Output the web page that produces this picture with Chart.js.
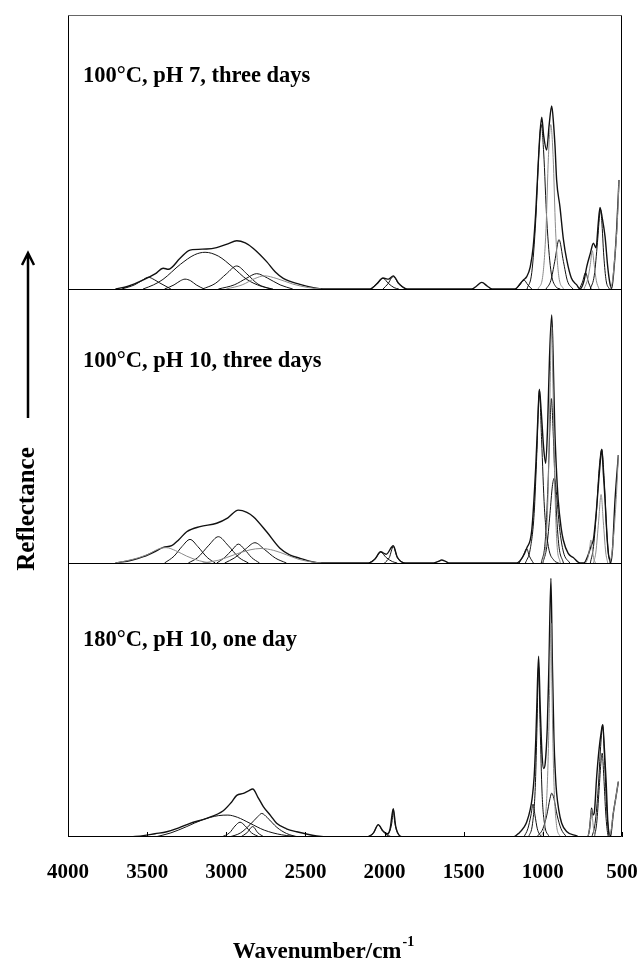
<!DOCTYPE html>
<html>
<head>
<meta charset="utf-8">
<script src="https://cdn.jsdelivr.net/npm/chart.js@4.4.1/dist/chart.umd.min.js"></script>
<style>
  html, body { margin: 0; padding: 0; background: #fff; }
  canvas { display: block; }
</style>
</head>
<body>
<canvas id="spectra" width="642" height="979"></canvas>
<script>
// [wavenumber cm-1, reflectance] pairs; one sum curve plus fitted bands per sample

// 100 C, pH 7, three days
const ph7Sum = [[3700,0],[3620,1],[3524,3.3],[3450,5.5],[3398,7.6],[3366,7.2],[3292,11.2],[3229,14.2],[3124,14.6],[3061,15.1],[2990,16.5],[2934,17.6],[2880,16.8],[2829,14.8],[2745,10],[2690,6.2],[2640,3.9],[2535,1.7],[2450,0.5],[2389,0],
  [2090,0],[2050,1.8],[2010,4],[1975,3.6],[1945,4.8],[1910,2],[1860,0],
  [1450,0],[1420,1],[1386,2.4],[1350,1],[1320,0],
  [1176,0],[1140,2.2],[1123,3.3],[1102,4.5],[1080,8],[1061,15.4],[1045,28],[1029,45.9],[1018,57],[1007,62.7],[995,56],[976,50.7],[960,60],[944,66.8],[932,60],[923,52],[913,39.8],[892,30],[870,18],[849,10.6],[820,4],[786,1.5],[765,0],
  [740,3],[723,8.1],[700,13],[681,16.7],[664,15],[650,24],[639,29.8],[625,26],[607,19.1],[590,8],[576,2],[565,0.3],[550,8],[534,21.5],[519,39.8]];
const ph7Band3490 = [[3660,0],[3580,1.5],[3530,3.2],[3493,4.3],[3455,3.4],[3420,2.2],[3350,0]];
const ph7Band3260 = [[3390,0],[3330,1.5],[3290,3],[3261,3.6],[3225,3],[3190,1.5],[3140,0]];
const ph7Band3130 = [[3526,0],[3460,1.5],[3400,3.5],[3290,9],[3200,12.5],[3134,13.4],[3050,12],[2960,8],[2870,3.5],[2780,1],[2705,0]];
const ph7Band2935 = [[3150,0],[3070,2],[3000,5.5],[2934,8.4],[2870,5.5],[2800,1.8],[2720,0]];
const ph7Band2810 = [[3050,0],[2950,1.5],[2870,4],[2808,5.6],[2740,4],[2660,1.5],[2580,0]];
const ph7Band2760 = [[3000,0],[2900,1.5],[2820,3.8],[2760,4.8],[2680,3.8],[2580,1.8],[2480,0.5],[2400,0]];
const ph7Band2010 = [[2090,0],[2050,1.8],[2010,3.9],[1975,2],[1940,0.5],[1910,0]];
const ph7Band1945 = [[2010,0],[1980,1.8],[1945,4.5],[1910,1.8],[1860,0]];
const ph7Band1120 = [[1170,0],[1145,1.5],[1120,3.3],[1095,1.5],[1070,0]];
const ph7Band1010 = [[1100,0],[1070,6],[1045,25],[1025,50],[1010,60],[995,50],[975,25],[950,7],[920,1],[890,0]];
const ph7Band950 = [[1030,0],[1000,5],[980,22],[965,48],[950,60],[935,48],[920,22],[900,5],[870,0]];
const ph7Band898 = [[980,0],[950,3],[925,10],[898,18],[870,10],[845,3],[810,0]];
const ph7Band730 = [[770,0],[750,2.5],[730,6],[712,2.5],[695,0]];
const ph7Band690 = [[740,0],[715,4],[700,9],[688,14],[676,9],[662,3],[645,0]];
const ph7Band636 = [[700,0],[675,5],[655,17],[640,28],[636,29],[628,25],[615,12],[600,3],[580,0]];
const ph7Band500 = [[575,0],[560,3],[545,12],[530,24],[519,39.8]];

// 100 C, pH 10, three days
const ph10Sum = [[3700,0],[3600,1],[3524,2.3],[3450,4.2],[3398,5.7],[3345,6.3],[3300,8.5],[3250,11.4],[3166,13.3],[3061,14.5],[2990,16.5],[2924,19.3],[2870,18.5],[2829,16.9],[2745,11.4],[2661,5.4],[2600,3],[2534,1.7],[2460,0.5],[2408,0],
  [2100,0],[2060,1.5],[2025,4.1],[1990,3.2],[1945,6.3],[1920,2.2],[1870,0],
  [1690,0],[1660,0.6],[1639,1.1],[1615,0.6],[1590,0],
  [1165,0],[1130,2],[1102,5.4],[1070,12],[1045,35],[1030,55],[1022,63.4],[1010,55],[995,42],[982,36.4],[970,50],[958,75],[944,90.5],[935,75],[925,50],[915,35],[903,23],[885,13],[871,8.4],[840,3.5],[808,2],[765,0],
  [740,0],[720,2],[702,5],[690,7],[681,8.4],[665,17],[650,27.8],[640,35],[628,41.5],[617,32],[607,23],[595,10],[585,3],[576,1.1],[572,0],[560,5],[544,23],[523,39.4]];
const ph10Band3400 = [[3700,0],[3600,1.2],[3500,3],[3420,5.3],[3380,5.6],[3320,4.5],[3250,2.5],[3170,0.8],[3100,0]];
const ph10Band3230 = [[3390,0],[3330,2.5],[3280,6],[3229,8.6],[3180,6],[3120,2],[3070,0]];
const ph10Band3050 = [[3240,0],[3180,2],[3110,6.5],[3050,9.6],[2990,6.5],[2920,2],[2860,0]];
const ph10Band2925 = [[3060,0],[3010,2],[2960,5],[2924,6.9],[2885,5],[2840,2],[2790,0]];
const ph10Band2820 = [[3010,0],[2950,1.8],[2880,5],[2819,7.4],[2760,5],[2690,1.8],[2620,0]];
const ph10Band2780 = [[3150,0],[3050,1],[2950,3],[2850,4.8],[2780,5.3],[2700,4.6],[2620,3],[2540,1.3],[2450,0.3],[2400,0]];
const ph10Band2025 = [[2100,0],[2060,1.5],[2025,4],[1990,2],[1950,0.5],[1920,0]];
const ph10Band1945 = [[2000,0],[1970,2],[1945,6],[1920,2],[1880,0]];
const ph10Band1102 = [[1150,0],[1125,2.5],[1102,5.2],[1085,2.5],[1060,0]];
const ph10Band1022 = [[1110,0],[1080,5],[1055,18],[1038,40],[1022,63],[1008,45],[990,20],[965,6],[930,1],[900,0]];
const ph10Band944 = [[1000,0],[980,8],[965,30],[955,62],[944,86],[935,62],[925,30],[912,8],[890,0]];
const ph10Band946 = [[1010,0],[985,8],[968,28],[955,50],[946,60],[935,48],[920,25],[900,7],[870,0]];
const ph10Band928 = [[1000,0],[975,6],[955,18],[940,28],[928,31],[915,26],[895,13],[870,4],[830,0]];
const ph10Band698 = [[730,0],[715,2],[703,6],[697,8.4],[690,6],[680,2],[668,0]];
const ph10Band628 = [[700,0],[680,6],[660,20],[645,34],[628,41.5],[612,30],[597,12],[585,3],[575,0]];
const ph10Band632 = [[680,0],[665,4],[648,15],[632,25],[618,15],[603,4],[590,0]];
const ph10Band500 = [[580,0],[565,3],[550,12],[535,25],[523,39.4]];

// 180 C, pH 10, one day
const hotSum = [[3600,0],[3524,0.5],[3450,1.2],[3376,1.9],[3300,3.3],[3229,5],[3124,6.8],[3019,9.6],[2970,12.5],[2934,15.2],[2892,15.9],[2860,16.8],[2833,17.5],[2800,14.5],[2766,11.1],[2720,7.8],[2682,5],[2620,3],[2555,1.9],[2429,0.4],[2350,0],
  [2110,0],[2070,1.5],[2040,4.5],[2010,2.2],[1980,1.2],[1965,3],[1945,10.3],[1930,4],[1905,0.5],[1880,0],
  [1187,0],[1150,1.5],[1120,3.5],[1102,5.5],[1080,10],[1068,14],[1055,22],[1045,35],[1038,48],[1027,66],[1017,48],[1005,30],[995,25],[985,27],[972,40],[962,62],[949,94.4],[940,64],[930,36],[920,22],[913,16],[900,10],[881,5],[850,2],[786,0.4],[770,0],
  [720,0],[705,3],[696,8.5],[692,10.5],[685,8],[675,9],[660,22],[645,32],[632,38],[622,41],[612,33],[600,20],[590,6],[582,1],[578,0],[570,1],[555,8.6],[540,14],[523,20.2]];
const hotBand3000 = [[3450,0],[3350,1.5],[3250,3.8],[3150,6.3],[3050,7.8],[2990,8],[2930,7.2],[2850,5],[2760,2.5],[2650,0.8],[2520,0]];
const hotBand2913 = [[3030,0],[2980,1.5],[2945,4],[2913,5.4],[2880,4],[2840,1.5],[2790,0]];
const hotBand2833 = [[2910,0],[2870,1.5],[2833,3.8],[2800,1.5],[2760,0]];
const hotBand2776 = [[2980,0],[2910,1.5],[2850,4.5],[2800,7.5],[2776,8.6],[2740,7],[2680,3.5],[2620,1.3],[2550,0]];
const hotBand2040 = [[2110,0],[2070,1.5],[2040,4.4],[2010,2],[1975,0.5],[1950,0]];
const hotBand1945 = [[1990,0],[1965,2.5],[1952,6],[1945,10.1],[1937,6],[1925,2.5],[1900,0]];
const hotBand1062 = [[1120,0],[1095,3],[1075,8],[1062,12],[1050,8],[1035,3],[1010,0]];
const hotBand1027 = [[1090,0],[1065,5],[1048,18],[1038,38],[1027,62],[1017,40],[1005,16],[990,5],[960,0]];
const hotBand949 = [[1010,0],[985,6],[970,22],[960,45],[949,78],[940,45],[930,20],[915,5],[890,0]];
const hotBand944 = [[1040,0],[1000,3],[975,8],[955,14],[944,16],[930,14],[910,8],[885,3],[850,0]];
const hotBand692 = [[715,0],[705,3],[696,8],[692,10],[688,8],[680,3],[670,0]];
const hotBand622 = [[690,0],[670,5],[650,18],[635,33],[622,41],[610,28],[598,12],[587,3],[578,0]];
const hotBand625 = [[675,0],[660,5],[645,17],[632,28],[625,30.6],[615,22],[602,8],[590,1],[585,0]];
const hotBand500 = [[585,0],[570,2],[555,8.6],[540,14],[523,20.2]];

const xTicks = [4000, 3500, 3000, 2500, 2000, 1500, 1000, 500];
const captions = ['100\u00b0C, pH 7, three days', '100\u00b0C, pH 10, three days', '180\u00b0C, pH 10, one day'];

const SERIF = '"Liberation Serif", "Times New Roman", serif';
const BLACK = '#111';
const GREY = '#8a8a8a';

// panel order top to bottom; sum curve drawn last so it sits on top
const panels = [
  { axis: 'yTop', captionY: 61, sum: ph7Sum,
    black: [ph7Band3490, ph7Band3260, ph7Band3130, ph7Band2935, ph7Band2810, ph7Band2010, ph7Band1945, ph7Band1120, ph7Band1010, ph7Band898, ph7Band730, ph7Band636],
    grey: [ph7Band2760, ph7Band950, ph7Band690, ph7Band500] },
  { axis: 'yMid', captionY: 72, sum: ph10Sum,
    black: [ph10Band3230, ph10Band3050, ph10Band2925, ph10Band2820, ph10Band2025, ph10Band1945, ph10Band1102, ph10Band1022, ph10Band946, ph10Band928, ph10Band628],
    grey: [ph10Band3400, ph10Band2780, ph10Band944, ph10Band698, ph10Band632, ph10Band500] },
  { axis: 'yBot', captionY: 77, sum: hotSum,
    black: [hotBand3000, hotBand2913, hotBand2833, hotBand2776, hotBand2040, hotBand1945, hotBand1062, hotBand1027, hotBand944, hotBand622, hotBand625],
    grey: [hotBand949, hotBand692, hotBand500] }
];

function toPoints(arr) { return arr.map(p => ({ x: p[0], y: p[1] })); }

function curve(arr, axis, color, width) {
  return {
    data: toPoints(arr), yAxisID: axis, showLine: true,
    borderColor: color, borderWidth: width, pointRadius: 0,
    cubicInterpolationMode: 'monotone', fill: false
  };
}

const datasets = [];
panels.forEach(p => {
  p.grey.forEach(b => datasets.push(curve(b, p.axis, GREY, 1)));
  p.black.forEach(b => datasets.push(curve(b, p.axis, BLACK, 1)));
  datasets.push(curve(p.sum, p.axis, BLACK, 1.4));
});

function panelAxis(weight) {
  return {
    type: 'linear', position: 'left', stack: 'panels', stackWeight: 1, weight: weight,
    min: 0, max: 100, offset: false,
    ticks: { display: false }, grid: { display: false, drawTicks: false }, border: { display: false },
    afterFit(s) { s.width = 0; }
  };
}

const frame = {
  id: 'frame',
  afterDatasetsDraw(chart) {
    const { ctx, chartArea: a, scales } = chart;
    ctx.save();
    ctx.lineWidth = 1;
    const l = Math.round(a.left) + 0.5, r = Math.round(a.right) - 0.5;
    const t = Math.round(a.top) + 0.5, b = Math.round(a.bottom) - 0.5;
    ctx.strokeStyle = '#666';
    ctx.beginPath();
    ctx.moveTo(l, t);
    ctx.lineTo(r, t);
    ctx.stroke();
    ctx.strokeStyle = '#000';
    ctx.beginPath();
    ctx.moveTo(l, t);
    ctx.lineTo(l, b);
    ctx.lineTo(r, b);
    ctx.lineTo(r, t);
    ['yTop', 'yMid'].forEach(id => {
      const y = Math.round(scales[id].bottom) + 0.5;
      ctx.moveTo(a.left, y);
      ctx.lineTo(a.right, y);
    });
    // short inward tick marks along the bottom axis
    xTicks.forEach(v => {
      const px = Math.round(scales.x.getPixelForValue(v)) + 0.5;
      ctx.moveTo(px, a.bottom);
      ctx.lineTo(px, a.bottom - 5);
    });
    ctx.stroke();

    ctx.fillStyle = '#000';
    ctx.font = 'bold 22.5px ' + SERIF;
    ctx.textBaseline = 'middle';
    ctx.textAlign = 'left';
    panels.forEach((p, i) => {
      ctx.fillText(captions[i], a.left + 15, scales[p.axis].top + p.captionY);
    });

    // vertical axis caption with arrow
    const ax = 28;
    ctx.lineWidth = 2.5;
    ctx.beginPath();
    ctx.moveTo(ax, 418);
    ctx.lineTo(ax, 255);
    ctx.moveTo(ax - 6, 265);
    ctx.lineTo(ax, 253);
    ctx.lineTo(ax + 6, 265);
    ctx.stroke();
    ctx.save();
    ctx.translate(ax, 509);
    ctx.rotate(-Math.PI / 2);
    ctx.textAlign = 'center';
    ctx.font = 'bold 25px ' + SERIF;
    ctx.fillText('Reflectance', 0, 0);
    ctx.restore();

    // horizontal axis caption with superscript
    ctx.font = 'bold 23px ' + SERIF;
    const main = 'Wavenumber/cm';
    const wMain = ctx.measureText(main).width;
    ctx.font = 'bold 14px ' + SERIF;
    const wSup = ctx.measureText('-1').width;
    const x0 = 323 - (wMain + wSup) / 2;
    ctx.font = 'bold 23px ' + SERIF;
    ctx.fillText(main, x0, 952);
    ctx.font = 'bold 14px ' + SERIF;
    ctx.fillText('-1', x0 + wMain + 1, 942);
    ctx.restore();
  }
};

new Chart(document.getElementById('spectra'), {
  type: 'scatter',
  data: { datasets: datasets },
  options: {
    responsive: false,
    animation: false,
    layout: { padding: { left: 68, right: 20, top: 15, bottom: 0 } },
    plugins: { legend: { display: false }, tooltip: { enabled: false } },
    scales: {
      x: {
        type: 'linear', reverse: true, min: 500, max: 4000,
        afterBuildTicks(s) { s.ticks = xTicks.map(v => ({ value: v })); },
        ticks: { autoSkip: false, maxRotation: 0, padding: 23, color: '#000',
          callback: v => String(v),
          font: { family: SERIF, size: 21, weight: 'bold' } },
        grid: { display: false, drawTicks: false }, border: { display: false },
        afterFit(s) { s.height = 142; s.paddingLeft = 0; s.paddingRight = 0; }
      },
      yBot: panelAxis(1),
      yMid: panelAxis(2),
      yTop: panelAxis(3)
    }
  },
  plugins: [frame]
});
</script>
</body>
</html>
